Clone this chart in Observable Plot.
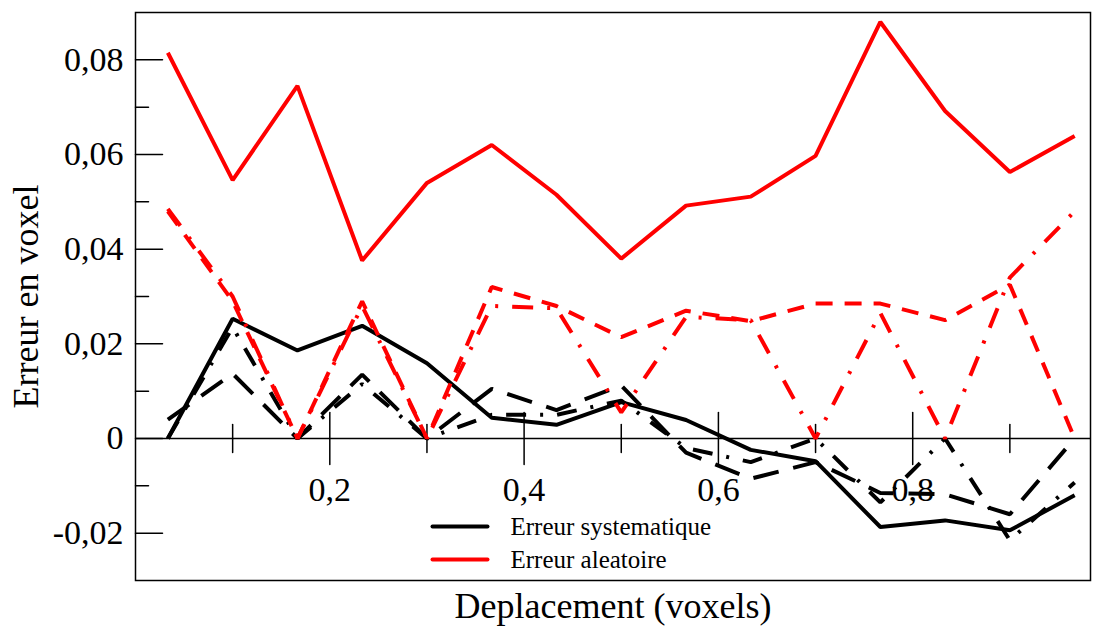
<!DOCTYPE html>
<html><head><meta charset="utf-8">
<script src="https://cdn.jsdelivr.net/npm/d3@7"></script>
<script src="https://cdn.jsdelivr.net/npm/@observablehq/plot@0.6"></script>
<style>body{margin:0;background:#fff}</style>
</head><body><div id="chart"></div>
<script>
// x positions (deplacement, voxels)
const deplacement = [0.0333,0.1,0.1667,0.2333,0.3,0.3667,0.4333,0.5,0.5667,0.6333,0.7,0.7667,0.8333,0.9,0.9667];
// Erreur systematique (black)
const systA = [0, 0.0253, 0.0186, 0.0238, 0.0159, 0.0044, 0.0029, 0.0077, 0.0039, -0.0024, -0.0048, -0.0187, -0.0173, -0.0194, -0.012];
const systB = [0.004, 0.0137, 0, 0.0135, 0, 0.0105, 0.006, 0.0112, -0.003, -0.0085, -0.005, -0.0115, -0.0118, -0.016, 0];
const systC = [0, 0.0235, 0, 0.0115, 0, 0.005, 0.005, 0.008, -0.002, -0.005, 0, -0.0135, 0, -0.0215, -0.0093];
// Erreur aleatoire (red)
const aleaA = [0.0815, 0.0546, 0.0745, 0.0376, 0.054, 0.062, 0.0515, 0.038, 0.0492, 0.0511, 0.0597, 0.088, 0.0692, 0.0563, 0.0639];
const aleaB = [0.048, 0.029, 0, 0.029, 0, 0.032, 0.028, 0.0214, 0.027, 0.0248, 0.0285, 0.0285, 0.025, 0.0325, 0];
const aleaC = [0.0485, 0.030, 0, 0.028, 0, 0.028, 0.0275, 0.0055, 0.0257, 0.025, 0, 0.0265, 0, 0.034, 0.048];

const yMajor = [-0.02, 0, 0.02, 0.04, 0.06, 0.08];
const yMinor = [-0.01, 0.01, 0.03, 0.05, 0.07];
const xMajor = [0.2, 0.4, 0.6, 0.8];
const xMinor = [0.1, 0.3, 0.5, 0.7, 0.9];
const legendLabels = ["Erreur systematique", "Erreur aleatoire"];

const fmtY = d => d === 0 ? "0" : d.toFixed(2).replace(".", ",");
const fmtX = d => d.toFixed(1).replace(".", ",");

const series = [
  {v: systA, color: "#000", dash: null},
  {v: systB, color: "#000", dash: "26,15"},
  {v: systC, color: "#000", dash: "20,14,3,14"},
  {v: aleaB, color: "#ff0000", dash: "17,12"},
  {v: aleaC, color: "#ff0000", dash: "21,14,3,14"},
  {v: aleaA, color: "#ff0000", dash: null}
];

const tickShape = {draw(ctx, l) { ctx.moveTo(0, 0); ctx.lineTo(0, -l); }};
const font = "'Liberation Serif', 'Times New Roman', serif";

const marks = [
  Plot.frame({stroke: "#000", strokeWidth: 1.5}),
  Plot.ruleY([0], {stroke: "#000", strokeWidth: 1.5}),
  // y ticks (inward)
  Plot.vector(yMajor, {y: d => d, frameAnchor: "left", length: 27, rotate: 90, anchor: "start", shape: tickShape, stroke: "#000", strokeWidth: 1.5}),
  Plot.vector(yMinor, {y: d => d, frameAnchor: "left", length: 13, rotate: 90, anchor: "start", shape: tickShape, stroke: "#000", strokeWidth: 1.5}),
  // x ticks on zero line
  Plot.vector(xMajor, {x: d => d, y: 0, length: 52, anchor: "middle", shape: tickShape, stroke: "#000", strokeWidth: 1.5}),
  Plot.vector(xMinor, {x: d => d, y: 0, length: 28, anchor: "middle", shape: tickShape, stroke: "#000", strokeWidth: 1.5}),
  Plot.axisY({ticks: yMajor, tickSize: 0, tickPadding: 12, tickFormat: fmtY, label: null, fontSize: 34, fontFamily: font}),
  Plot.text(xMajor, {x: d => d, y: 0, text: fmtX, dy: 52, fontSize: 34, fontFamily: font, fill: "#000"}),
  ...series.map(s => Plot.lineY(s.v.map((y, i) => ({x: deplacement[i], y})), {
    x: "x", y: "y", stroke: s.color, strokeWidth: 4, strokeDasharray: s.dash, strokeLinejoin: "miter", strokeLinecap: "butt"
  })),
  // legend
  Plot.vector(legendLabels, {frameAnchor: "bottom-left", length: 55, rotate: 90, anchor: "start", shape: tickShape,
    stroke: (d, i) => i === 0 ? "#000" : "#ff0000", strokeWidth: 4}),
  Plot.text(legendLabels, {frameAnchor: "bottom-left", text: d => d, textAnchor: "start", lineAnchor: "middle", fontSize: 25, fontFamily: font, fill: "#000"}),
  Plot.text(["Deplacement (voxels)"], {frameAnchor: "bottom", dy: 26, lineAnchor: "middle", fontSize: 36, fontFamily: font, fill: "#000"}),
  Plot.text(["Erreur en voxel"], {frameAnchor: "left", dx: -109, rotate: -90, textAnchor: "middle", lineAnchor: "middle", fontSize: 36, fontFamily: font, fill: "#000"})
];

const chart = Plot.plot({
  width: 1101, height: 626,
  marginLeft: 135, marginRight: 11, marginTop: 12, marginBottom: 46,
  x: {domain: [0, 0.983], axis: null},
  y: {domain: [-0.03, 0.09], axis: null},
  style: {background: "#fff", fontFamily: font},
  marks
});
document.getElementById("chart").append(chart);

// place the two legend rows inside the frame (layout offsets)
const rowsDy = [-54, -21];
const legendLineDx = 297, legendTextDx = 375;
chart.querySelectorAll("g[aria-label='vector']").forEach(g => {
  const paths = g.querySelectorAll("path");
  if (paths.length === 2) paths.forEach((p, i) => {
    const t = p.getAttribute("transform") || "";
    p.setAttribute("transform", `translate(${legendLineDx},${rowsDy[i]}) ` + t);
  });
});
chart.querySelectorAll("g[aria-label='text']").forEach(g => {
  const ts = g.querySelectorAll("text");
  if (ts.length === 2 && ts[0].textContent === legendLabels[0]) ts.forEach((t, i) => {
    const tr = t.getAttribute("transform") || "";
    t.setAttribute("transform", `translate(${legendTextDx},${rowsDy[i]}) ` + tr);
  });
});
</script>
</body></html>
